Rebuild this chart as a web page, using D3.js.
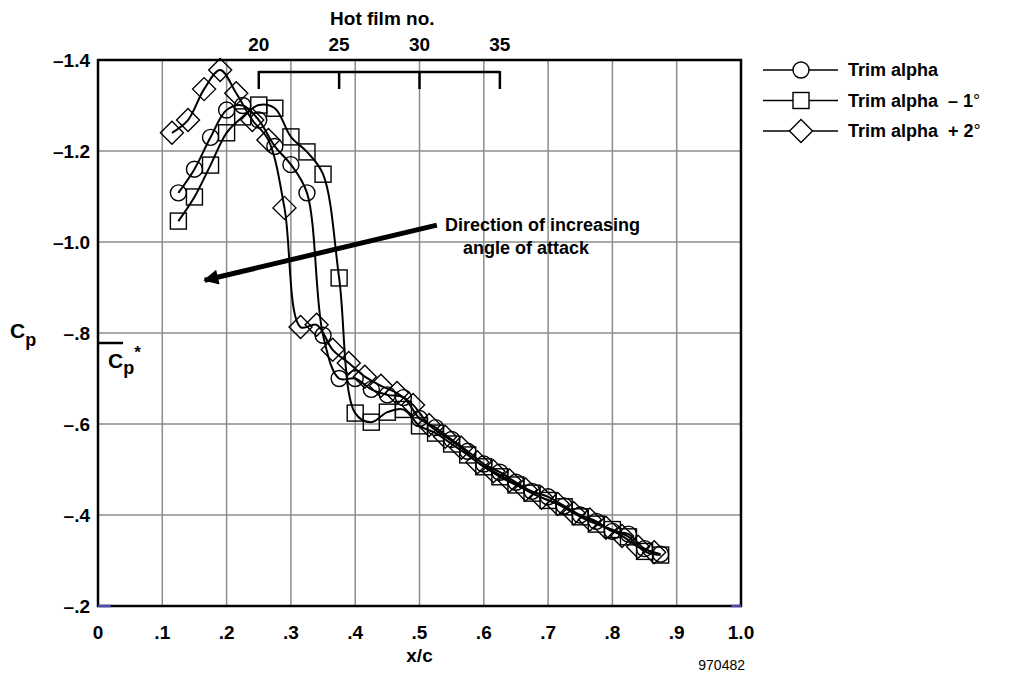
<!DOCTYPE html>
<html>
<head>
<meta charset="utf-8">
<script src="https://cdn.jsdelivr.net/npm/d3@7"></script>
<style>
  body { margin: 0; background: #fff; }
  svg text { font-family: "Liberation Sans", Arial, Helvetica, sans-serif; font-weight: bold; fill: #000; }
</style>
</head>
<body>
<svg id="chart" width="1009" height="675"></svg>
<script>

// x/c positions and Cp values
var xTrim = [0.125, 0.15, 0.175, 0.2, 0.225, 0.25, 0.275, 0.3, 0.325, 0.35, 0.375,
  0.4, 0.425, 0.45, 0.475, 0.5, 0.525, 0.55, 0.575, 0.6, 0.625, 0.65, 0.675,
  0.7, 0.725, 0.75, 0.775, 0.8, 0.825, 0.85, 0.875];
var cpTrim = [-1.108, -1.16, -1.23, -1.29, -1.30, -1.268, -1.21, -1.17, -1.108, -0.795, -0.70,
  -0.700, -0.676, -0.664, -0.658, -0.612, -0.592, -0.566, -0.540, -0.512, -0.494, -0.472, -0.452,
  -0.440, -0.420, -0.400, -0.386, -0.364, -0.358, -0.326, -0.314];

var xMinus1 = [0.125, 0.15, 0.175, 0.2, 0.225, 0.25, 0.275, 0.3, 0.325, 0.35, 0.375,
  0.4, 0.425, 0.45, 0.475, 0.5, 0.525, 0.55, 0.575, 0.6, 0.625, 0.65, 0.675,
  0.7, 0.725, 0.75, 0.775, 0.8, 0.825, 0.85, 0.875];
var cpMinus1 = [-1.046, -1.099, -1.169, -1.240, -1.275, -1.301, -1.294, -1.231, -1.198, -1.149, -0.921,
  -0.624, -0.604, -0.626, -0.632, -0.596, -0.580, -0.556, -0.532, -0.506, -0.484, -0.466, -0.448,
  -0.432, -0.418, -0.396, -0.380, -0.368, -0.352, -0.320, -0.312];

var xPlus2 = [0.115, 0.14, 0.165, 0.19, 0.215, 0.24, 0.265, 0.29, 0.315, 0.34, 0.365, 0.39,
  0.415, 0.44, 0.465, 0.49, 0.515, 0.54, 0.565, 0.59, 0.615, 0.64, 0.665,
  0.69, 0.715, 0.74, 0.765, 0.79, 0.815, 0.84, 0.865];
var cpPlus2 = [-1.240, -1.268, -1.336, -1.378, -1.327, -1.268, -1.224, -1.075, -0.813, -0.818, -0.763, -0.734,
  -0.704, -0.684, -0.668, -0.642, -0.598, -0.572, -0.548, -0.516, -0.496, -0.476, -0.456,
  -0.438, -0.424, -0.404, -0.390, -0.372, -0.354, -0.330, -0.318];

var xTicks = [0, 0.1, 0.2, 0.3, 0.4, 0.5, 0.6, 0.7, 0.8, 0.9, 1.0];
var xTickLabels = ["0", ".1", ".2", ".3", ".4", ".5", ".6", ".7", ".8", ".9", "1.0"];
var yTicks = [-1.4, -1.2, -1.0, -0.8, -0.6, -0.4, -0.2];
var yTickLabels = ["\u20131.4", "\u20131.2", "\u20131.0", "\u2013.8", "\u2013.6", "\u2013.4", "\u2013.2"];
var hotFilmTicks = [20, 25, 30, 35];

var seriesNames = ["Trim alpha", "Trim alpha  \u2013 1", "Trim alpha  + 2"];
var seriesShapes = ["circle", "square", "diamond"];

// arrow for the annotation (x/c, Cp)
var arrowFrom = [0.527, -1.037];
var arrowTo = [0.166, -0.916];

var svg = d3.select("#chart");

var x = d3.scaleLinear().domain([0, 1]).range([98, 741]);
var y = d3.scaleLinear().domain([-1.4, -0.2]).range([60, 606]);
// hot film numbers sit on x/c = .25 .. .625
var hf = d3.scaleLinear().domain([20, 35]).range([x(0.25), x(0.625)]);

// grid
svg.append("g").selectAll("line").data(xTicks.slice(1, -1)).enter().append("line")
  .attr("x1", d => x(d)).attr("x2", d => x(d))
  .attr("y1", y(-1.4)).attr("y2", y(-0.2))
  .attr("stroke", "#8c8c8c").attr("stroke-width", 1.5);
svg.append("g").selectAll("line").data(yTicks.slice(1, -1)).enter().append("line")
  .attr("x1", x(0)).attr("x2", x(1))
  .attr("y1", d => y(d)).attr("y2", d => y(d))
  .attr("stroke", "#8c8c8c").attr("stroke-width", 1.5);

// frame
svg.append("rect")
  .attr("x", x(0)).attr("y", y(-1.4))
  .attr("width", x(1) - x(0)).attr("height", y(-0.2) - y(-1.4))
  .attr("fill", "none").attr("stroke", "#000").attr("stroke-width", 2.5);
// little blue bits on the bottom edge
svg.append("line").attr("x1", x(0)).attr("x2", x(0.02)).attr("y1", y(-0.2)).attr("y2", y(-0.2))
  .attr("stroke", "#4b4bb0").attr("stroke-width", 2.5);
svg.append("line").attr("x1", x(0.985)).attr("x2", x(1)).attr("y1", y(-0.2)).attr("y2", y(-0.2))
  .attr("stroke", "#4b4bb0").attr("stroke-width", 2.5);

// tick labels
svg.append("g").selectAll("text").data(xTicks).enter().append("text")
  .attr("x", d => x(d)).attr("y", 639)
  .attr("text-anchor", "middle").attr("font-size", 19)
  .text((d, i) => xTickLabels[i]);
svg.append("g").selectAll("text").data(yTicks).enter().append("text")
  .attr("x", 90).attr("y", d => y(d) + 7)
  .attr("text-anchor", "end").attr("font-size", 19)
  .text((d, i) => yTickLabels[i]);

svg.append("text").attr("x", x(0.5)).attr("y", 662)
  .attr("text-anchor", "middle").attr("font-size", 19).text("x/c");
svg.append("text").attr("x", 745).attr("y", 670)
  .attr("text-anchor", "end").attr("font-size", 14)
  .style("font-weight", "normal").text("970482");

// Cp label and the Cp* bar
var cp = svg.append("text").attr("x", 10).attr("y", 338).attr("font-size", 21);
cp.append("tspan").text("C");
cp.append("tspan").attr("dy", 8).attr("font-size", 18).text("p");
svg.append("line").attr("x1", x(0)).attr("x2", x(0.039)).attr("y1", 343).attr("y2", 343)
  .attr("stroke", "#000").attr("stroke-width", 2.5);
var cps = svg.append("text").attr("x", 108).attr("y", 368).attr("font-size", 21);
cps.append("tspan").text("C");
cps.append("tspan").attr("dy", 6).attr("font-size", 18).text("p");
cps.append("tspan").attr("dy", -16).attr("font-size", 17).text("*");

// hot film bracket across the top
var bracketY = 72;
svg.append("line").attr("x1", hf(20)).attr("x2", hf(35)).attr("y1", bracketY).attr("y2", bracketY)
  .attr("stroke", "#000").attr("stroke-width", 2.5);
svg.append("g").selectAll("line").data(hotFilmTicks).enter().append("line")
  .attr("x1", d => hf(d)).attr("x2", d => hf(d))
  .attr("y1", bracketY - 1).attr("y2", 89)
  .attr("stroke", "#000").attr("stroke-width", 2.5);
svg.append("g").selectAll("text").data(hotFilmTicks).enter().append("text")
  .attr("x", d => hf(d)).attr("y", 51)
  .attr("text-anchor", "middle").attr("font-size", 19).text(d => d);
svg.append("text").attr("x", hf(27.5) + 3).attr("y", 25)
  .attr("text-anchor", "middle").attr("font-size", 19).text("Hot film no.");

// markers
function drawMarker(g, shape, cx, cy) {
  if (shape == "circle") {
    g.append("circle").attr("cx", cx).attr("cy", cy).attr("r", 8);
  } else if (shape == "square") {
    g.append("rect").attr("x", cx - 8).attr("y", cy - 8).attr("width", 16).attr("height", 16);
  } else {
    var s = 11.5;
    g.append("path").attr("d", "M" + cx + "," + (cy - s) + "L" + (cx + s) + "," + cy +
      "L" + cx + "," + (cy + s) + "L" + (cx - s) + "," + cy + "Z");
  }
}

var allSeries = [
  { xs: xTrim, ys: cpTrim },
  { xs: xMinus1, ys: cpMinus1 },
  { xs: xPlus2, ys: cpPlus2 }
];

var line = d3.line()
  .x(d => x(d[0])).y(d => y(d[1]))
  .curve(d3.curveCatmullRom.alpha(0.5));

allSeries.forEach(function(s, k) {
  var pts = s.xs.map((v, i) => [v, s.ys[i]]);
  svg.append("path").datum(pts)
    .attr("d", line)
    .attr("fill", "none").attr("stroke", "#000").attr("stroke-width", 2);
  var g = svg.append("g").attr("fill", "none").attr("stroke", "#000").attr("stroke-width", 1.4);
  pts.forEach(function(p) {
    drawMarker(g, seriesShapes[k], x(p[0]), y(p[1]));
  });
});

// arrow annotation
svg.append("defs").append("marker")
  .attr("id", "head").attr("viewBox", "0 0 10 10")
  .attr("refX", 9).attr("refY", 5)
  .attr("markerWidth", 5).attr("markerHeight", 3)
  .attr("orient", "auto")
  .append("path").attr("d", "M0,0L10,5L0,10Z").attr("fill", "#000");
svg.append("line")
  .attr("x1", x(arrowFrom[0])).attr("y1", y(arrowFrom[1]))
  .attr("x2", x(arrowTo[0])).attr("y2", y(arrowTo[1]))
  .attr("stroke", "#000").attr("stroke-width", 5)
  .attr("marker-end", "url(#head)");
svg.append("text").attr("x", 445).attr("y", 231).attr("font-size", 18).text("Direction of increasing");
svg.append("text").attr("x", 463).attr("y", 254).attr("font-size", 18).text("angle of attack");

// legend
var legend = svg.append("g");
seriesNames.forEach(function(name, k) {
  var ly = 70 + k * 30.5;
  legend.append("line").attr("x1", 763).attr("x2", 838).attr("y1", ly).attr("y2", ly)
    .attr("stroke", "#000").attr("stroke-width", 1.5);
  var mg = legend.append("g").attr("fill", "#fff").attr("stroke", "#000").attr("stroke-width", 1.4);
  drawMarker(mg, seriesShapes[k], 801, ly);
  var t = legend.append("text").attr("x", 848).attr("y", ly + 6).attr("font-size", 18)
    .style("white-space", "pre").text(name);
  if (k > 0) t.append("tspan").style("font-weight", "normal").text("\u00b0");
});

</script>
</body>
</html>
